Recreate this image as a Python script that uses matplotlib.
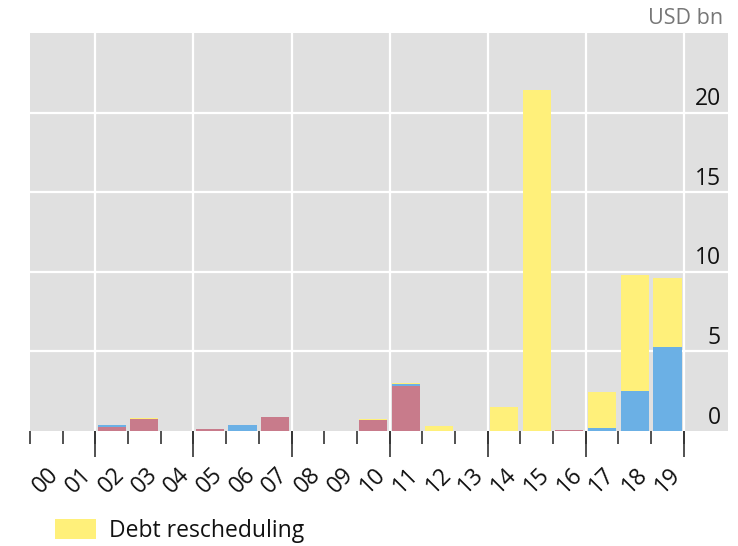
import matplotlib
matplotlib.use("Agg")
import matplotlib.pyplot as plt
import matplotlib.transforms as mtransforms
import numpy as np

plt.rcParams['font.family'] = ['Open Sans', 'DejaVu Sans']

# Data (USD bn)
years = ["00", "01", "02", "03", "04", "05", "06", "07", "08", "09",
         "10", "11", "12", "13", "14", "15", "16", "17", "18", "19"]
pink_vals = [0, 0, 0.25, 0.75, 0, 0.15, 0, 0.9, 0, 0,
             0.7, 2.8, 0, 0, 0, 0, 0.08, 0, 0, 0]
blue_vals = [0, 0, 0.15, 0, 0, 0, 0.35, 0, 0, 0,
             0, 0.17, 0, 0, 0, 0, 0, 0.2, 2.5, 5.25]
yellow_vals = [0, 0, 0, 0.08, 0, 0, 0, 0, 0, 0,
               0.07, 0.05, 0.3, 0, 1.5, 21.4, 0, 2.25, 7.27, 4.35]
yticks = [0, 5, 10, 15, 20]
unit_label = "USD bn"
legend_label = "Debt rescheduling"

c_pink = "#C87B8B"
c_blue = "#6BB0E5"
c_yellow = "#FFF07A"
c_bg = "#E0E0E0"

W, H = 738, 546
fig = plt.figure(figsize=(W / 100, H / 100), dpi=100)
ax = fig.add_axes([30 / W, (H - 431) / H, (728 - 30) / W, (431 - 33) / H])
ax.set_facecolor(c_bg)

x = np.arange(len(years))
ax.set_xlim(-0.5, 20.85)
ax.set_ylim(0, 25)

# gridlines
major_bounds = np.arange(1.5, len(years), 3)
for g in yticks[1:]:
    ax.axhline(g, color="white", lw=1.6, zorder=1)
for b in major_bounds:
    ax.axvline(b, color="white", lw=1.6, zorder=1)

w = 0.86
p = np.array(pink_vals)
bl = np.array(blue_vals)
ye = np.array(yellow_vals)
ax.bar(x, p, width=w, color=c_pink, zorder=2)
ax.bar(x, bl, width=w, bottom=p, color=c_blue, zorder=2)
ax.bar(x, ye, width=w, bottom=p + bl, color=c_yellow, zorder=2, label=legend_label)

for s in ax.spines.values():
    s.set_visible(False)

# x ticks: labels at centres, short ticks at boundaries
ax.set_xticks(x)
ax.set_xticklabels(years, rotation=45, ha="center", va="top", fontsize=16.5, color="#111111")
ax.tick_params(axis="x", which="major", length=0, pad=23)
ax.set_xticks(np.arange(-0.5, len(years) + 0.5, 1), minor=True)
ax.tick_params(axis="x", which="minor", length=9, width=1.2, color="#333333")

sec = ax.secondary_xaxis("bottom")
sec.set_xticks(major_bounds)
sec.set_xticklabels([])
sec.tick_params(length=19, width=1.2, color="#333333")
for s in sec.spines.values():
    s.set_visible(False)

# y labels inside plot on right, above gridlines
ax.set_yticks([])
trans = mtransforms.blended_transform_factory(ax.transAxes, ax.transData)
off = mtransforms.ScaledTranslation(-7 / 100, 1.5 / 100, fig.dpi_scale_trans)
for t in yticks:
    ax.text(1.0, t, str(t), transform=trans + off, ha="right", va="bottom",
            fontsize=16.5, color="#111111")

fig.text(723 / W, 1 - 18 / H, unit_label, ha="right", va="center", fontsize=15.5, color="#777777")

leg = fig.legend(loc="upper left", bbox_to_anchor=(55 / W, 1 - 519 / H), frameon=False,
                 fontsize=16.5, handlelength=1.8, handleheight=0.95, handletextpad=0.55,
                 borderpad=0, borderaxespad=0)
for t in leg.get_texts():
    t.set_color("#111111")

fig.savefig("out.png", dpi=100)
